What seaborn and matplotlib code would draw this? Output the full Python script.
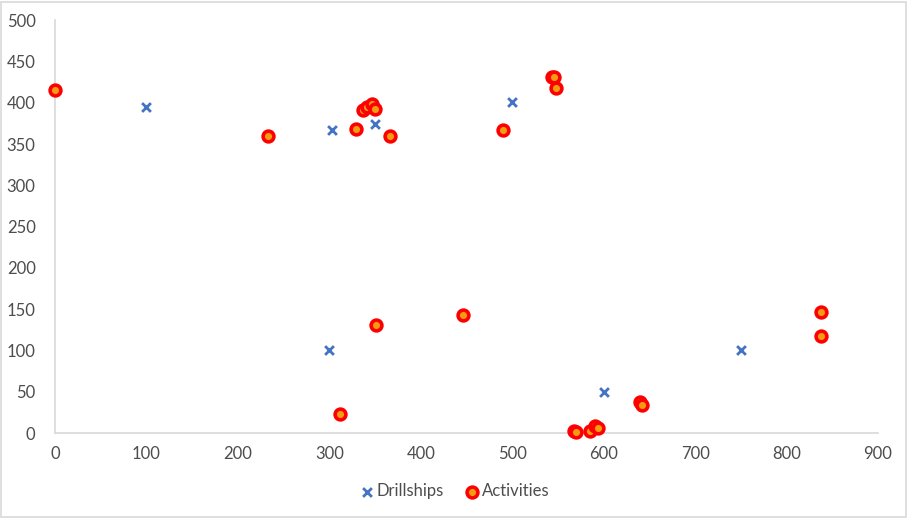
import matplotlib
matplotlib.use("Agg")
import matplotlib.pyplot as plt
from matplotlib.patches import Rectangle
import seaborn as sns
import pandas as pd

# Drillship positions
drill_x = [100, 303, 350, 500, 300, 600, 750]
drill_y = [395, 367, 374, 401, 100, 50, 100]

# Activity positions
act_x = [0, 233, 329, 337, 341, 347, 350, 366, 312, 351, 446, 490,
         543, 546, 548, 567, 570, 585, 590, 594, 640, 642, 838, 838]
act_y = [416, 360, 368, 391, 395, 398, 393, 360, 23, 131, 143, 367,
         431, 431, 418, 3, 1, 3, 8, 6, 37, 34, 146, 118]

x_ticks = [0, 100, 200, 300, 400, 500, 600, 700, 800, 900]
y_ticks = [0, 50, 100, 150, 200, 250, 300, 350, 400, 450, 500]

drill = pd.DataFrame({"x": drill_x, "y": drill_y})
acts = pd.DataFrame({"x": act_x, "y": act_y})

sns.set_style("white")
plt.rcParams["font.family"] = ["Lato", "DejaVu Sans"]

fig = plt.figure(figsize=(9.08, 5.18), dpi=100)
ax = fig.add_axes([0.0606, 0.164, 0.9064, 0.797])

sns.scatterplot(data=drill, x="x", y="y", ax=ax, marker="x", s=40,
                color="#4472C4", linewidth=2.0, label="Drillships", zorder=3)
sns.scatterplot(data=acts, x="x", y="y", ax=ax, marker="o", s=60,
                facecolor="#F39C12", edgecolor="#FF0000", linewidth=2.6,
                label="Activities", zorder=4)
for coll in ax.collections:
    coll.set_clip_on(False)

ax.set_xlim(0, 900)
ax.set_ylim(0, 500)
ax.set_xticks(x_ticks)
ax.set_yticks(y_ticks)
ax.set_xlabel("")
ax.set_ylabel("")
ax.tick_params(axis="both", length=0, labelsize=12, labelcolor="#4D4D4D")
ax.tick_params(axis="x", pad=9)
ax.tick_params(axis="y", pad=14)
for side in ["top", "right"]:
    ax.spines[side].set_visible(False)
for side in ["left", "bottom"]:
    ax.spines[side].set_color("#D9D9D9")
    ax.spines[side].set_linewidth(1.2)
    ax.spines[side].set_zorder(1)
ax.grid(False)

leg = ax.legend(loc="center", bbox_to_anchor=(0.5, 0.052),
                bbox_transform=fig.transFigure, ncol=2, frameon=False,
                fontsize=12, handletextpad=0.1, columnspacing=1.2,
                handlelength=1.0)
for t in leg.get_texts():
    t.set_color("#4D4D4D")

fig.patches.append(Rectangle((0.001, 0.001), 0.997, 0.996,
                             transform=fig.transFigure, fill=False,
                             edgecolor="#D9D9D9", linewidth=1.2))

fig.savefig("out.png", dpi=100)
